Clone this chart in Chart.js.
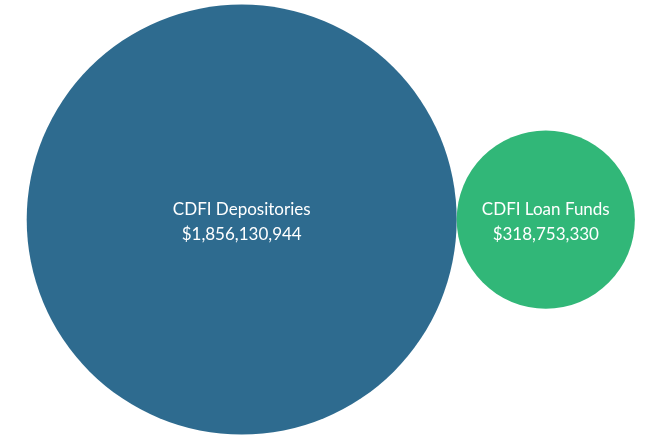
<!DOCTYPE html>
<html>
<head>
<meta charset="utf-8">
<script src="https://cdn.jsdelivr.net/npm/chart.js@4"></script>
<style>
  html, body { margin: 0; padding: 0; background: #fff; }
  canvas { display: block; }
</style>
</head>
<body>
<canvas id="bubbleChart" width="660" height="440"></canvas>
<script>
// Data
const categories = ['CDFI Depositories', 'CDFI Loan Funds'];
const amounts = [1856130944, 318753330];
const colors = ['#2E6B8F', '#31B778'];

// Layout (pixels)
const W = 660, H = 440;
const maxRadius = 215;
const leftEdge = 26.7;
const centerY = 219.6;

// Bubble area proportional to amount, circles packed side by side
const radii = amounts.map(v => maxRadius * Math.sqrt(v / Math.max(...amounts)));
let cursor = leftEdge;
const points = radii.map(r => {
    const p = { x: cursor + r, y: centerY, r: r };
    cursor += 2 * r;
    return p;
});

const fmt = v => '$' + v.toLocaleString('en-US');

// Draw labels in the middle of each bubble
const bubbleLabels = {
    id: 'bubbleLabels',
    afterDatasetsDraw(chart) {
        const ctx = chart.ctx;
        const meta = chart.getDatasetMeta(0);
        ctx.save();
        ctx.fillStyle = '#ffffff';
        ctx.textAlign = 'center';
        ctx.textBaseline = 'alphabetic';
        ctx.font = '17px Lato, "Open Sans", sans-serif';
        meta.data.forEach((el, i) => {
            ctx.fillText(categories[i], el.x, 215);
            ctx.fillText(fmt(amounts[i]), el.x, 240);
        });
        ctx.restore();
    }
};

const ctx = document.getElementById('bubbleChart').getContext('2d');
const chart = new Chart(ctx, {
    type: 'bubble',
    data: {
        labels: categories,
        datasets: [{
            data: points,
            backgroundColor: colors,
            hoverBackgroundColor: colors,
            borderWidth: 0,
            hoverBorderWidth: 0,
            clip: false
        }]
    },
    options: {
        responsive: false,
        animation: false,
        layout: { padding: 0, autoPadding: false },
        plugins: {
            legend: { display: false },
            tooltip: { enabled: false }
        },
        scales: {
            x: { type: 'linear', min: 0, max: W, display: false },
            y: { type: 'linear', min: 0, max: H, reverse: true, display: false }
        }
    },
    plugins: [bubbleLabels]
});
</script>
</body>
</html>
